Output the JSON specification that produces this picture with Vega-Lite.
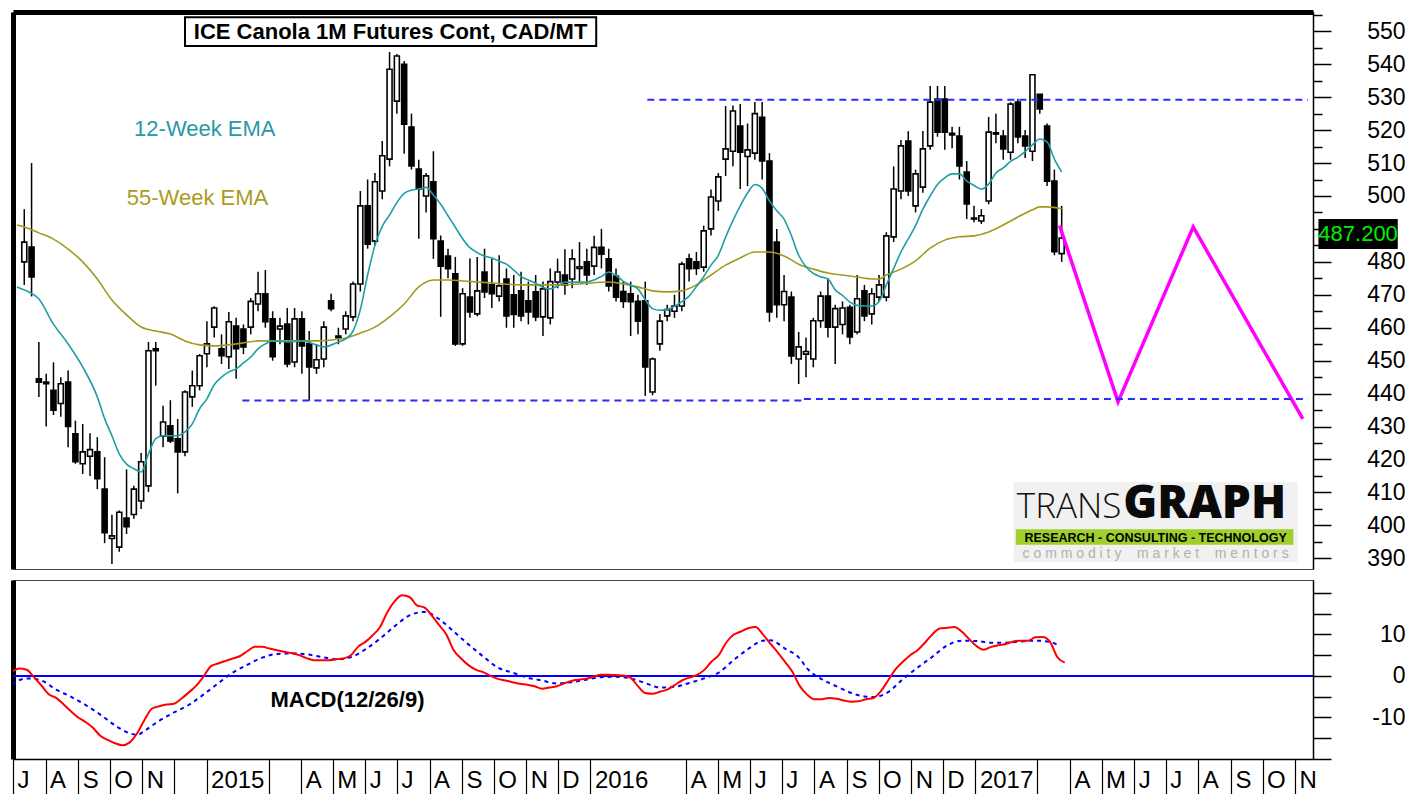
{
  "$schema": "https://vega.github.io/schema/vega-lite/v6.json",
  "background": "white",
  "padding": {"left": 11, "top": 11, "right": 0, "bottom": 0},
  "config": {
    "view": {"stroke": "#444444", "strokeWidth": 1},
    "axis": {"labelFont": "Liberation Sans", "labelColor": "black", "domainColor": "black", "tickColor": "black", "grid": false, "labelOverlap": false},
    "text": {"font": "Liberation Sans"}
  },
  "datasets": {
    "candles": [
      {"d":"2014-07-07","o":480,"h":496,"l":473,"c":486},
      {"d":"2014-07-14","o":484.5,"h":510,"l":469.5,"c":475.4},
      {"d":"2014-07-21","o":444.5,"h":455.7,"l":439,"c":443.5},
      {"d":"2014-07-28","o":443.5,"h":446,"l":430,"c":443},
      {"d":"2014-08-04","o":441,"h":449.5,"l":433.5,"c":435},
      {"d":"2014-08-11","o":437,"h":445,"l":433,"c":443},
      {"d":"2014-08-18","o":443.5,"h":447,"l":423.7,"c":430},
      {"d":"2014-08-25","o":427.8,"h":431.8,"l":418.7,"c":419.3},
      {"d":"2014-09-01","o":418.7,"h":430.8,"l":415.6,"c":422.3},
      {"d":"2014-09-08","o":421,"h":428,"l":415,"c":423},
      {"d":"2014-09-15","o":422.3,"h":426.8,"l":411,"c":414.2},
      {"d":"2014-09-22","o":411,"h":420.7,"l":394.6,"c":397.8},
      {"d":"2014-09-29","o":396,"h":403.2,"l":388.3,"c":396.8},
      {"d":"2014-10-06","o":393.4,"h":404.5,"l":392,"c":404},
      {"d":"2014-10-13","o":402.2,"h":417,"l":397.4,"c":399.6},
      {"d":"2014-10-20","o":403.3,"h":412,"l":402,"c":411},
      {"d":"2014-10-27","o":407.4,"h":422,"l":405,"c":419.3},
      {"d":"2014-11-03","o":412,"h":455.7,"l":410.1,"c":453},
      {"d":"2014-11-10","o":453.6,"h":455.7,"l":442.4,"c":453},
      {"d":"2014-11-17","o":427.1,"h":436.3,"l":423.7,"c":431.4},
      {"d":"2014-11-24","o":430.2,"h":438,"l":425,"c":425.6},
      {"d":"2014-12-01","o":426.3,"h":432.3,"l":409.7,"c":422.3},
      {"d":"2014-12-08","o":422.3,"h":441,"l":421,"c":440.5},
      {"d":"2014-12-15","o":439,"h":447,"l":436,"c":442.4},
      {"d":"2014-12-22","o":442.4,"h":452,"l":441,"c":451.5},
      {"d":"2014-12-29","o":452.1,"h":462,"l":448,"c":455.1},
      {"d":"2015-01-05","o":460.2,"h":466.5,"l":457,"c":466},
      {"d":"2015-01-12","o":453.6,"h":458,"l":449,"c":451.5},
      {"d":"2015-01-19","o":451.2,"h":464.8,"l":447.5,"c":461.8},
      {"d":"2015-01-26","o":460.5,"h":463,"l":444.5,"c":453.6},
      {"d":"2015-02-02","o":459.6,"h":461,"l":452,"c":454.2},
      {"d":"2015-02-09","o":460.2,"h":469,"l":458,"c":468},
      {"d":"2015-02-16","o":467.2,"h":477,"l":465,"c":470.3},
      {"d":"2015-02-23","o":470.3,"h":477.5,"l":460,"c":461.8},
      {"d":"2015-03-02","o":462.7,"h":465,"l":450,"c":451.2},
      {"d":"2015-03-09","o":459.6,"h":463,"l":455,"c":460.5},
      {"d":"2015-03-16","o":461.1,"h":466,"l":448,"c":449},
      {"d":"2015-03-23","o":449.6,"h":466,"l":448,"c":462.7},
      {"d":"2015-03-30","o":462.7,"h":465,"l":446,"c":454.5},
      {"d":"2015-04-06","o":455.1,"h":459,"l":437.8,"c":448.1},
      {"d":"2015-04-13","o":447.8,"h":455,"l":446,"c":450.3},
      {"d":"2015-04-20","o":450.5,"h":462,"l":448,"c":460.2},
      {"d":"2015-04-27","o":468.2,"h":470.3,"l":465,"c":465.8},
      {"d":"2015-05-04","o":457,"h":460,"l":455,"c":457.5},
      {"d":"2015-05-11","o":459.6,"h":465,"l":458,"c":463.6},
      {"d":"2015-05-18","o":463.3,"h":474,"l":462,"c":473.3},
      {"d":"2015-05-25","o":473.3,"h":501.5,"l":471,"c":497},
      {"d":"2015-06-01","o":497,"h":505,"l":484,"c":485.4},
      {"d":"2015-06-08","o":486.3,"h":507,"l":485,"c":504.3},
      {"d":"2015-06-15","o":501.5,"h":516.7,"l":499,"c":512.2},
      {"d":"2015-06-22","o":511.2,"h":543.7,"l":509,"c":538.5},
      {"d":"2015-06-29","o":528.8,"h":543.1,"l":525,"c":542.5},
      {"d":"2015-07-06","o":540,"h":541,"l":512.8,"c":521.8},
      {"d":"2015-07-13","o":520.9,"h":525,"l":508,"c":509.1},
      {"d":"2015-07-20","o":508.2,"h":511,"l":487,"c":502.1},
      {"d":"2015-07-27","o":500,"h":507,"l":495,"c":506.1},
      {"d":"2015-08-03","o":504.3,"h":513.6,"l":480.9,"c":487},
      {"d":"2015-08-10","o":486.3,"h":488,"l":463.3,"c":478.7},
      {"d":"2015-08-17","o":481.8,"h":484,"l":475,"c":477.9},
      {"d":"2015-08-24","o":476.4,"h":481.5,"l":454.5,"c":455.1},
      {"d":"2015-08-31","o":455.1,"h":472,"l":454.5,"c":470.3},
      {"d":"2015-09-07","o":469.3,"h":481,"l":463,"c":464.8},
      {"d":"2015-09-14","o":464.2,"h":481.5,"l":463.5,"c":471.2},
      {"d":"2015-09-21","o":476.9,"h":484,"l":469,"c":470.9},
      {"d":"2015-09-28","o":473,"h":481,"l":466,"c":470.3},
      {"d":"2015-10-05","o":469.6,"h":482,"l":468,"c":472.7},
      {"d":"2015-10-12","o":474.8,"h":478,"l":460,"c":463.6},
      {"d":"2015-10-19","o":470,"h":476,"l":460,"c":464},
      {"d":"2015-10-26","o":471.2,"h":477,"l":462,"c":463.6},
      {"d":"2015-11-02","o":468.2,"h":474,"l":461,"c":464.8},
      {"d":"2015-11-09","o":470.9,"h":476,"l":462,"c":463.3},
      {"d":"2015-11-16","o":463.3,"h":474,"l":457.5,"c":471.8},
      {"d":"2015-11-23","o":463,"h":478,"l":461,"c":474},
      {"d":"2015-11-30","o":473.9,"h":481,"l":472,"c":476.9},
      {"d":"2015-12-07","o":476,"h":483.8,"l":470,"c":473},
      {"d":"2015-12-14","o":474.8,"h":483.8,"l":472,"c":480.9},
      {"d":"2015-12-21","o":478,"h":486,"l":474,"c":478.5},
      {"d":"2015-12-28","o":480,"h":484,"l":473,"c":476},
      {"d":"2016-01-04","o":478.7,"h":487.9,"l":476,"c":484.4},
      {"d":"2016-01-11","o":484.4,"h":490,"l":478,"c":482.3},
      {"d":"2016-01-18","o":480.9,"h":484,"l":471,"c":472.7},
      {"d":"2016-01-25","o":475.7,"h":478,"l":468,"c":469.3},
      {"d":"2016-02-01","o":471,"h":474,"l":466,"c":468},
      {"d":"2016-02-08","o":470.3,"h":474,"l":457.5,"c":467.9},
      {"d":"2016-02-15","o":468,"h":470,"l":458,"c":462},
      {"d":"2016-02-22","o":468.2,"h":474,"l":439.3,"c":448.1},
      {"d":"2016-02-29","o":440.5,"h":451,"l":439.5,"c":450.5},
      {"d":"2016-03-07","o":455.1,"h":464.2,"l":453,"c":462},
      {"d":"2016-03-14","o":463.6,"h":467,"l":462,"c":465.5},
      {"d":"2016-03-21","o":465,"h":470,"l":463,"c":466.6},
      {"d":"2016-03-28","o":466.6,"h":480,"l":465,"c":479.3},
      {"d":"2016-04-04","o":480.9,"h":482.5,"l":474,"c":477.9},
      {"d":"2016-04-11","o":480,"h":483,"l":476,"c":478},
      {"d":"2016-04-18","o":478.4,"h":491,"l":477,"c":489.4},
      {"d":"2016-04-25","o":490,"h":502,"l":488,"c":499.7},
      {"d":"2016-05-02","o":498.5,"h":507,"l":495.5,"c":505.8},
      {"d":"2016-05-09","o":511.2,"h":527.3,"l":506.1,"c":514.3},
      {"d":"2016-05-16","o":513.6,"h":527.5,"l":509,"c":525.8},
      {"d":"2016-05-23","o":521.2,"h":527.9,"l":502.1,"c":513.3},
      {"d":"2016-05-30","o":512,"h":522,"l":503,"c":514},
      {"d":"2016-06-06","o":513,"h":528.5,"l":511,"c":525},
      {"d":"2016-06-13","o":523.9,"h":528.5,"l":505,"c":510.6},
      {"d":"2016-06-20","o":510.6,"h":513,"l":461.8,"c":464.8},
      {"d":"2016-06-27","o":486,"h":490,"l":463,"c":467},
      {"d":"2016-07-04","o":467,"h":476,"l":462,"c":471},
      {"d":"2016-07-11","o":469.3,"h":471,"l":449,"c":451.4},
      {"d":"2016-07-18","o":450.5,"h":458.7,"l":442.9,"c":454.2},
      {"d":"2016-07-25","o":452,"h":457,"l":445,"c":452.8},
      {"d":"2016-08-01","o":450.5,"h":463,"l":448,"c":462.1},
      {"d":"2016-08-08","o":462.1,"h":471,"l":460,"c":469.6},
      {"d":"2016-08-15","o":469.6,"h":475,"l":457,"c":460.2},
      {"d":"2016-08-22","o":460.2,"h":467,"l":449,"c":465.8},
      {"d":"2016-08-29","o":461,"h":468,"l":458,"c":466},
      {"d":"2016-09-05","o":466.2,"h":467,"l":455,"c":457.2},
      {"d":"2016-09-12","o":458.7,"h":476,"l":458,"c":468.8},
      {"d":"2016-09-19","o":471.2,"h":473,"l":462,"c":463.6},
      {"d":"2016-09-26","o":464.2,"h":472,"l":461,"c":470.3},
      {"d":"2016-10-03","o":469.3,"h":476,"l":468,"c":473},
      {"d":"2016-10-10","o":469.3,"h":489,"l":468,"c":487.9},
      {"d":"2016-10-17","o":487.6,"h":509,"l":486,"c":502.1},
      {"d":"2016-10-24","o":501.5,"h":517,"l":499,"c":515.2},
      {"d":"2016-10-31","o":516.7,"h":519.7,"l":500,"c":501.5},
      {"d":"2016-11-07","o":497,"h":508,"l":495,"c":506.7},
      {"d":"2016-11-14","o":502.7,"h":519.7,"l":501,"c":514.3},
      {"d":"2016-11-21","o":515.2,"h":533.4,"l":514,"c":528.5},
      {"d":"2016-11-28","o":529.4,"h":533.4,"l":518,"c":519.4},
      {"d":"2016-12-05","o":529.4,"h":533.4,"l":514,"c":519.4},
      {"d":"2016-12-12","o":518.5,"h":521,"l":514.5,"c":519},
      {"d":"2016-12-19","o":518.2,"h":521,"l":505,"c":509.1},
      {"d":"2016-12-26","o":507.3,"h":510.6,"l":493,"c":497.6},
      {"d":"2017-01-02","o":493.3,"h":497,"l":492,"c":493},
      {"d":"2017-01-09","o":492.4,"h":496,"l":491.5,"c":494},
      {"d":"2017-01-16","o":498.5,"h":524,"l":497.5,"c":519.4},
      {"d":"2017-01-23","o":518.8,"h":525,"l":516,"c":519.2},
      {"d":"2017-01-30","o":518.2,"h":520,"l":511,"c":514.3},
      {"d":"2017-02-06","o":513.3,"h":528.5,"l":511,"c":527.9},
      {"d":"2017-02-13","o":528.5,"h":529.5,"l":516,"c":517.9},
      {"d":"2017-02-20","o":518.2,"h":520,"l":511.5,"c":515.2},
      {"d":"2017-02-27","o":513.6,"h":537,"l":510.6,"c":536.8},
      {"d":"2017-03-06","o":530.9,"h":531,"l":525,"c":526.4},
      {"d":"2017-03-13","o":521.2,"h":522,"l":503,"c":504.5},
      {"d":"2017-03-20","o":504.5,"h":508,"l":482,"c":483.1},
      {"d":"2017-03-27","o":482.5,"h":497,"l":480,"c":487.2}
    ],
    "ema12": [
      {"d":"2014-06-30","v":472.4},{"d":"2014-07-07","v":471.5},{"d":"2014-07-21","v":468.7},{"d":"2014-08-04","v":461.1},
      {"d":"2014-08-18","v":455.1},{"d":"2014-09-01","v":448.1},{"d":"2014-09-15","v":439},{"d":"2014-09-22","v":432.4},
      {"d":"2014-09-29","v":427.2},{"d":"2014-10-06","v":421.7},{"d":"2014-10-13","v":418.6},{"d":"2014-10-20","v":417.2},
      {"d":"2014-10-27","v":416.2},{"d":"2014-11-03","v":421.7},{"d":"2014-11-10","v":426.3},{"d":"2014-11-17","v":427.2},
      {"d":"2014-12-01","v":427.2},{"d":"2014-12-08","v":428.4},{"d":"2014-12-15","v":430.8},{"d":"2014-12-22","v":435.4},
      {"d":"2014-12-29","v":438.4},{"d":"2015-01-05","v":442.7},{"d":"2015-01-12","v":445},{"d":"2015-01-19","v":446.6},
      {"d":"2015-01-26","v":447.5},{"d":"2015-02-02","v":449.3},{"d":"2015-02-09","v":451.1},{"d":"2015-02-16","v":453.6},
      {"d":"2015-02-23","v":455.1},{"d":"2015-03-02","v":456},{"d":"2015-03-16","v":455.7},{"d":"2015-03-30","v":456},
      {"d":"2015-04-13","v":454.8},{"d":"2015-04-20","v":454.2},{"d":"2015-05-04","v":455.7},{"d":"2015-05-11","v":456.6},
      {"d":"2015-05-18","v":459},{"d":"2015-05-25","v":465.5},{"d":"2015-06-01","v":476},{"d":"2015-06-08","v":485},
      {"d":"2015-06-15","v":490.8},{"d":"2015-06-22","v":494.2},{"d":"2015-06-29","v":498},{"d":"2015-07-06","v":500.8},
      {"d":"2015-07-13","v":501.8},{"d":"2015-07-20","v":502.1},{"d":"2015-07-27","v":502.6},{"d":"2015-08-03","v":500.3},
      {"d":"2015-08-10","v":497.5},{"d":"2015-08-17","v":494},{"d":"2015-08-24","v":490.5},{"d":"2015-08-31","v":487},
      {"d":"2015-09-07","v":484.3},{"d":"2015-09-14","v":482.8},{"d":"2015-09-21","v":481.8},{"d":"2015-09-28","v":481.2},
      {"d":"2015-10-05","v":480.2},{"d":"2015-10-12","v":479.3},{"d":"2015-10-19","v":477.5},{"d":"2015-10-26","v":475.5},
      {"d":"2015-11-02","v":474.5},{"d":"2015-11-09","v":473.5},{"d":"2015-11-16","v":472.2},{"d":"2015-11-23","v":471.8},
      {"d":"2015-11-30","v":472.7},{"d":"2015-12-07","v":473.8},{"d":"2015-12-28","v":473.9},{"d":"2016-01-04","v":474.5},
      {"d":"2016-01-11","v":475.6},{"d":"2016-01-18","v":476.9},{"d":"2016-01-25","v":475.9},{"d":"2016-02-01","v":474.1},
      {"d":"2016-02-08","v":472.9},{"d":"2016-02-15","v":471.8},{"d":"2016-02-22","v":468.5},{"d":"2016-02-29","v":465.8},
      {"d":"2016-03-07","v":465.3},{"d":"2016-03-14","v":465.5},{"d":"2016-03-21","v":466.5},{"d":"2016-03-28","v":467.9},
      {"d":"2016-04-04","v":469.6},{"d":"2016-04-11","v":472.5},{"d":"2016-04-18","v":475.5},{"d":"2016-04-25","v":479},
      {"d":"2016-05-02","v":482},{"d":"2016-05-09","v":487.5},{"d":"2016-05-16","v":492.5},{"d":"2016-05-23","v":497},
      {"d":"2016-05-30","v":500.9},{"d":"2016-06-06","v":503.5},{"d":"2016-06-13","v":502.3},{"d":"2016-06-20","v":498.5},
      {"d":"2016-06-27","v":495.5},{"d":"2016-07-04","v":493},{"d":"2016-07-11","v":488},{"d":"2016-07-18","v":482},
      {"d":"2016-07-25","v":478.5},{"d":"2016-08-01","v":476.5},{"d":"2016-08-08","v":475.5},{"d":"2016-08-15","v":474.8},
      {"d":"2016-08-22","v":471.5},{"d":"2016-08-29","v":469.8},{"d":"2016-09-05","v":467.8},{"d":"2016-09-12","v":466.8},
      {"d":"2016-09-19","v":466.6},{"d":"2016-09-26","v":466.6},{"d":"2016-10-03","v":468},{"d":"2016-10-10","v":473},
      {"d":"2016-10-17","v":478},{"d":"2016-10-24","v":483},{"d":"2016-10-31","v":487},{"d":"2016-11-07","v":491},
      {"d":"2016-11-14","v":496},{"d":"2016-11-21","v":500},{"d":"2016-11-28","v":503.5},{"d":"2016-12-05","v":505.5},
      {"d":"2016-12-12","v":506.7},{"d":"2016-12-19","v":506.7},{"d":"2016-12-26","v":504.5},{"d":"2017-01-02","v":503.2},
      {"d":"2017-01-09","v":502.1},{"d":"2017-01-16","v":503.6},{"d":"2017-01-23","v":507},{"d":"2017-01-30","v":508.5},
      {"d":"2017-02-06","v":510.5},{"d":"2017-02-13","v":511.8},{"d":"2017-02-20","v":513.5},{"d":"2017-02-27","v":515.5},
      {"d":"2017-03-06","v":517.3},{"d":"2017-03-13","v":516.4},{"d":"2017-03-20","v":511.2},{"d":"2017-03-27","v":507.3}
    ],
    "ema55": [
      {"d":"2014-06-30","v":491.2},{"d":"2014-07-07","v":490.6},{"d":"2014-07-21","v":488.8},{"d":"2014-08-04","v":486.9},
      {"d":"2014-08-18","v":483.9},{"d":"2014-09-01","v":480},{"d":"2014-09-15","v":474.8},{"d":"2014-09-29","v":468.4},
      {"d":"2014-10-13","v":463.9},{"d":"2014-10-27","v":460.2},{"d":"2014-11-10","v":459},{"d":"2014-11-24","v":458.1},
      {"d":"2014-12-08","v":456},{"d":"2014-12-22","v":454.8},{"d":"2015-01-05","v":454.5},{"d":"2015-01-19","v":454.8},
      {"d":"2015-02-02","v":455.4},{"d":"2015-02-16","v":456},{"d":"2015-03-16","v":456},{"d":"2015-04-13","v":456},
      {"d":"2015-04-27","v":456.3},{"d":"2015-05-11","v":456.9},{"d":"2015-05-25","v":458.4},{"d":"2015-06-08","v":460.2},
      {"d":"2015-06-22","v":463.3},{"d":"2015-07-06","v":467.2},{"d":"2015-07-20","v":472.4},{"d":"2015-08-03","v":474.5},
      {"d":"2015-08-17","v":474.5},{"d":"2015-08-31","v":474.2},{"d":"2015-09-28","v":473.6},{"d":"2015-10-26","v":473},
      {"d":"2015-11-23","v":473},{"d":"2015-12-21","v":473.3},{"d":"2016-01-18","v":473.9},{"d":"2016-02-01","v":473.3},
      {"d":"2016-02-15","v":472.4},{"d":"2016-02-29","v":471.2},{"d":"2016-03-14","v":470.9},{"d":"2016-03-28","v":471.2},
      {"d":"2016-04-11","v":473},{"d":"2016-04-25","v":476},{"d":"2016-05-09","v":479},{"d":"2016-05-23","v":481.2},
      {"d":"2016-06-06","v":483},{"d":"2016-06-20","v":483},{"d":"2016-07-04","v":481.8},{"d":"2016-07-18","v":479.3},
      {"d":"2016-08-01","v":477.8},{"d":"2016-08-15","v":476.6},{"d":"2016-08-29","v":476},{"d":"2016-09-12","v":475.4},
      {"d":"2016-09-26","v":474.8},{"d":"2016-10-03","v":474.8},{"d":"2016-10-10","v":476},{"d":"2016-10-24","v":477.8},
      {"d":"2016-11-07","v":480.3},{"d":"2016-11-21","v":484.2},{"d":"2016-12-05","v":486.6},{"d":"2016-12-19","v":487.6},
      {"d":"2017-01-02","v":487.9},{"d":"2017-01-16","v":489.1},{"d":"2017-01-30","v":491.2},{"d":"2017-02-13","v":493.6},
      {"d":"2017-02-27","v":495.8},{"d":"2017-03-06","v":496.7},{"d":"2017-03-13","v":496.7},{"d":"2017-03-27","v":496.1}
    ],
    "macd": [
      {"d":"2014-06-30","v":1.0},{"d":"2014-07-07","v":1.8},{"d":"2014-07-14","v":1.5},{"d":"2014-07-21","v":-0.3},
      {"d":"2014-07-28","v":-2.3},{"d":"2014-08-04","v":-4.4},{"d":"2014-08-11","v":-5.3},{"d":"2014-08-18","v":-6.8},
      {"d":"2014-08-25","v":-8.5},{"d":"2014-09-01","v":-10.0},{"d":"2014-09-08","v":-11.1},{"d":"2014-09-15","v":-12.5},
      {"d":"2014-09-22","v":-14.4},{"d":"2014-09-29","v":-15.4},{"d":"2014-10-06","v":-16.2},{"d":"2014-10-13","v":-16.7},
      {"d":"2014-10-20","v":-16.0},{"d":"2014-10-27","v":-13.8},{"d":"2014-11-03","v":-10.6},{"d":"2014-11-10","v":-7.9},
      {"d":"2014-11-17","v":-7.3},{"d":"2014-11-24","v":-6.9},{"d":"2014-12-01","v":-6.7},{"d":"2014-12-08","v":-5.5},
      {"d":"2014-12-15","v":-4.0},{"d":"2014-12-22","v":-2.4},{"d":"2014-12-29","v":-0.2},{"d":"2015-01-05","v":2.3},
      {"d":"2015-01-12","v":3.0},{"d":"2015-01-19","v":3.6},{"d":"2015-01-26","v":4.2},{"d":"2015-02-02","v":4.8},
      {"d":"2015-02-09","v":6.0},{"d":"2015-02-16","v":7.0},{"d":"2015-02-23","v":7.0},{"d":"2015-03-02","v":6.6},
      {"d":"2015-03-09","v":6.2},{"d":"2015-03-16","v":5.8},{"d":"2015-03-23","v":5.5},{"d":"2015-03-30","v":5.0},
      {"d":"2015-04-06","v":4.3},{"d":"2015-04-13","v":3.8},{"d":"2015-04-20","v":3.8},{"d":"2015-04-27","v":3.8},
      {"d":"2015-05-04","v":4.0},{"d":"2015-05-11","v":4.2},{"d":"2015-05-18","v":4.9},{"d":"2015-05-25","v":7.0},
      {"d":"2015-06-01","v":8.2},{"d":"2015-06-08","v":9.8},{"d":"2015-06-15","v":11.8},{"d":"2015-06-22","v":15.4},
      {"d":"2015-06-29","v":18.0},{"d":"2015-07-06","v":19.4},{"d":"2015-07-13","v":19.0},{"d":"2015-07-20","v":17.0},
      {"d":"2015-07-27","v":16.5},{"d":"2015-08-03","v":14.6},{"d":"2015-08-10","v":12.3},{"d":"2015-08-17","v":10.0},
      {"d":"2015-08-24","v":6.2},{"d":"2015-08-31","v":4.2},{"d":"2015-09-07","v":2.6},{"d":"2015-09-14","v":1.5},
      {"d":"2015-09-21","v":0.9},{"d":"2015-09-28","v":0.0},{"d":"2015-10-05","v":-0.7},{"d":"2015-10-12","v":-1.1},
      {"d":"2015-10-19","v":-1.5},{"d":"2015-10-26","v":-1.9},{"d":"2015-11-02","v":-2.1},{"d":"2015-11-09","v":-2.5},
      {"d":"2015-11-16","v":-3.1},{"d":"2015-11-23","v":-2.8},{"d":"2015-11-30","v":-2.5},{"d":"2015-12-07","v":-1.8},
      {"d":"2015-12-14","v":-1.2},{"d":"2015-12-21","v":-0.9},{"d":"2015-12-28","v":-0.7},{"d":"2016-01-04","v":-0.2},
      {"d":"2016-01-11","v":0.3},{"d":"2016-01-18","v":0.3},{"d":"2016-01-25","v":0.2},{"d":"2016-02-01","v":0.1},
      {"d":"2016-02-08","v":-0.4},{"d":"2016-02-15","v":-2.4},{"d":"2016-02-22","v":-4.1},{"d":"2016-02-29","v":-4.3},
      {"d":"2016-03-07","v":-3.8},{"d":"2016-03-14","v":-3.3},{"d":"2016-03-21","v":-2.2},{"d":"2016-03-28","v":-1.1},
      {"d":"2016-04-04","v":-0.4},{"d":"2016-04-11","v":0.2},{"d":"2016-04-18","v":1.4},{"d":"2016-04-25","v":3.4},
      {"d":"2016-05-02","v":5.0},{"d":"2016-05-09","v":8.0},{"d":"2016-05-16","v":9.9},{"d":"2016-05-23","v":10.7},
      {"d":"2016-05-30","v":11.5},{"d":"2016-06-06","v":11.8},{"d":"2016-06-13","v":10.0},{"d":"2016-06-20","v":7.8},
      {"d":"2016-06-27","v":5.7},{"d":"2016-07-04","v":3.4},{"d":"2016-07-11","v":1.0},{"d":"2016-07-18","v":-2.4},
      {"d":"2016-07-25","v":-4.5},{"d":"2016-08-01","v":-5.6},{"d":"2016-08-08","v":-5.6},{"d":"2016-08-15","v":-5.3},
      {"d":"2016-08-22","v":-5.5},{"d":"2016-08-29","v":-5.9},{"d":"2016-09-05","v":-6.2},{"d":"2016-09-12","v":-6.1},
      {"d":"2016-09-19","v":-5.6},{"d":"2016-09-26","v":-5.3},{"d":"2016-10-03","v":-3.7},{"d":"2016-10-10","v":-1.1},
      {"d":"2016-10-17","v":1.6},{"d":"2016-10-24","v":3.4},{"d":"2016-10-31","v":5.0},{"d":"2016-11-07","v":6.2},
      {"d":"2016-11-14","v":8.0},{"d":"2016-11-21","v":10.0},{"d":"2016-11-28","v":11.4},{"d":"2016-12-05","v":11.6},
      {"d":"2016-12-12","v":11.8},{"d":"2016-12-19","v":10.7},{"d":"2016-12-26","v":8.9},{"d":"2017-01-02","v":7.2},
      {"d":"2017-01-09","v":6.3},{"d":"2017-01-16","v":7.0},{"d":"2017-01-23","v":7.4},{"d":"2017-01-30","v":7.7},
      {"d":"2017-02-06","v":8.3},{"d":"2017-02-13","v":8.5},{"d":"2017-02-20","v":8.5},{"d":"2017-02-27","v":9.3},
      {"d":"2017-03-06","v":9.4},{"d":"2017-03-13","v":8.2},{"d":"2017-03-20","v":4.5},{"d":"2017-03-27","v":3.2}
    ],
    "signal": [
      {"d":"2014-06-30","v":-2.0},{"d":"2014-07-14","v":-0.6},{"d":"2014-07-28","v":-1.1},{"d":"2014-08-11","v":-3.3},
      {"d":"2014-08-25","v":-5.0},{"d":"2014-09-08","v":-7.0},{"d":"2014-09-22","v":-9.3},{"d":"2014-10-06","v":-11.9},
      {"d":"2014-10-20","v":-13.8},{"d":"2014-10-27","v":-14.2},{"d":"2014-11-03","v":-13.2},{"d":"2014-11-17","v":-10.8},
      {"d":"2014-12-01","v":-8.8},{"d":"2014-12-15","v":-7.0},{"d":"2014-12-29","v":-4.5},{"d":"2015-01-12","v":-1.8},
      {"d":"2015-01-26","v":0.8},{"d":"2015-02-09","v":2.7},{"d":"2015-02-23","v":4.4},{"d":"2015-03-09","v":5.3},
      {"d":"2015-03-23","v":5.4},{"d":"2015-04-06","v":5.2},{"d":"2015-04-20","v":4.6},{"d":"2015-05-04","v":4.0},
      {"d":"2015-05-18","v":4.5},{"d":"2015-06-01","v":6.4},{"d":"2015-06-15","v":9.0},{"d":"2015-06-29","v":12.0},
      {"d":"2015-07-13","v":14.6},{"d":"2015-07-27","v":15.4},{"d":"2015-08-10","v":13.7},{"d":"2015-08-24","v":10.7},
      {"d":"2015-09-07","v":7.6},{"d":"2015-09-21","v":4.7},{"d":"2015-10-05","v":2.0},{"d":"2015-10-19","v":0.8},
      {"d":"2015-11-02","v":-0.4},{"d":"2015-11-16","v":-1.1},{"d":"2015-11-30","v":-1.8},{"d":"2015-12-14","v":-1.5},
      {"d":"2015-12-28","v":-0.9},{"d":"2016-01-11","v":-0.3},{"d":"2016-01-25","v":-0.2},{"d":"2016-02-08","v":-0.6},
      {"d":"2016-02-22","v":-1.7},{"d":"2016-03-07","v":-2.8},{"d":"2016-03-21","v":-2.6},{"d":"2016-04-04","v":-1.7},
      {"d":"2016-04-18","v":-0.6},{"d":"2016-05-02","v":0.8},{"d":"2016-05-16","v":3.8},{"d":"2016-05-30","v":6.5},
      {"d":"2016-06-13","v":8.5},{"d":"2016-06-20","v":8.6},{"d":"2016-07-04","v":6.6},{"d":"2016-07-18","v":4.2},
      {"d":"2016-07-25","v":1.8},{"d":"2016-08-08","v":-0.8},{"d":"2016-08-22","v":-2.5},{"d":"2016-09-05","v":-4.1},
      {"d":"2016-09-19","v":-5.0},{"d":"2016-09-26","v":-5.1},{"d":"2016-10-10","v":-3.9},{"d":"2016-10-24","v":-0.8},
      {"d":"2016-11-07","v":2.0},{"d":"2016-11-21","v":4.6},{"d":"2016-12-05","v":7.3},{"d":"2016-12-19","v":8.5},
      {"d":"2017-01-02","v":8.4},{"d":"2017-01-16","v":8.0},{"d":"2017-01-30","v":8.0},{"d":"2017-02-13","v":8.3},
      {"d":"2017-02-27","v":8.5},{"d":"2017-03-13","v":8.2},{"d":"2017-03-20","v":7.5}
    ]
  },
  "spacing": 8,
  "vconcat": [
    {
      "width": 1300,
      "height": 557,
      "resolve": {"axis": {"y": "independent"}},
      "layer": [
        {
          "layer": [
            {
              "data": {"name": "candles"},
              "mark": {"type": "rule", "color": "black", "strokeWidth": 1.5},
              "encoding": {
                "x": {"field": "d", "type": "temporal", "title": null,
                      "scale": {"type": "utc", "domain": [{"year": 2014, "month": 7, "date": 1, "utc": true}, {"year": 2017, "month": 11, "date": 18, "utc": true}]}},
                "y": {"field": "l", "type": "quantitative", "title": null,
                      "scale": {"domain": [386.75, 555.86], "nice": false, "zero": false},
                      "axis": {"orient": "right", "title": null, "grid": false, "tickCount": 1000,
                               "values": [390,395,400,405,410,415,420,425,430,435,440,445,450,455,460,465,470,475,480,485,490,495,500,505,510,515,520,525,530,535,540,545,550,555],
                               "labelExpr": "(datum.value % 10 == 0 && datum.value != 490) ? '' + datum.value : ''",
                               "tickSize": {"condition": {"test": "datum.value % 10 != 0", "value": 9}, "value": 18},
                               "labelFontSize": {"condition": {"test": "datum.value % 10 != 0", "value": 1}, "value": 23},
                               "tickWidth": 1.5, "tickColor": "black",
                               "labelAlign": "right", "labelBaseline": "middle", "labelPadding": 74,
                               "labelFont": "Liberation Sans", "labelColor": "black",
                               "labelOverlap": false, "labelBound": false, "labelFlush": false,
                               "domain": true, "domainColor": "black", "domainWidth": 1.5}},
                "y2": {"field": "h"}
              }
            },
            {
              "data": {"name": "candles"},
              "mark": {"type": "bar", "width": 5, "stroke": "black", "strokeWidth": 1.6},
              "encoding": {
                "x": {"field": "d", "type": "temporal", "title": null},
                "y": {"field": "o", "type": "quantitative", "title": null},
                "y2": {"field": "c"},
                "fill": {"condition": {"test": "datum.c < datum.o", "value": "black"}, "value": "white"}
              }
            },
            {
              "data": {"name": "ema55"},
              "mark": {"type": "line", "color": "#a09a1e", "strokeWidth": 1.6, "interpolate": "monotone", "clip": true},
              "encoding": {
                "x": {"field": "d", "type": "temporal", "title": null},
                "y": {"field": "v", "type": "quantitative", "title": null}
              }
            },
            {
              "data": {"name": "ema12"},
              "mark": {"type": "line", "color": "#1e9ea6", "strokeWidth": 1.6, "interpolate": "monotone", "clip": true},
              "encoding": {
                "x": {"field": "d", "type": "temporal", "title": null},
                "y": {"field": "v", "type": "quantitative", "title": null}
              }
            },
            {
              "data": {"values": [
                {"d": "2017-03-25", "v": 491.0},
                {"d": "2017-05-20", "v": 437.5},
                {"d": "2017-07-31", "v": 490.6},
                {"d": "2017-11-13", "v": 432.3}
              ]},
              "mark": {"type": "line", "color": "#ff00ff", "strokeWidth": 3.5},
              "encoding": {
                "x": {"field": "d", "type": "temporal", "title": null},
                "y": {"field": "v", "type": "quantitative", "title": null}
              }
            },
            {
              "data": {"values": [{"d1": "2014-12-08", "d2": "2016-01-06", "v1": 545.5, "v2": 554.3}]},
              "mark": {"type": "rect", "fill": "white", "stroke": "black", "strokeWidth": 2},
              "encoding": {
                "x": {"field": "d1", "type": "temporal", "title": null},
                "x2": {"field": "d2"},
                "y": {"field": "v1", "type": "quantitative", "title": null},
                "y2": {"field": "v2"}
              }
            },
            {
              "data": {"values": [{"d": "2015-06-23", "v": 549.9, "t": "ICE Canola 1M Futures Cont, CAD/MT"}]},
              "mark": {"type": "text", "font": "Liberation Sans", "fontSize": 22, "fontWeight": "bold", "color": "black", "align": "center", "baseline": "middle"},
              "encoding": {
                "x": {"field": "d", "type": "temporal", "title": null},
                "y": {"field": "v", "type": "quantitative", "title": null},
                "text": {"field": "t"}
              }
            },
            {
              "data": {"values": [{"d": "2014-12-27", "v": 520.3, "t": "12-Week EMA"}]},
              "mark": {"type": "text", "font": "Liberation Sans", "fontSize": 22, "color": "#2799a8", "align": "center", "baseline": "middle"},
              "encoding": {
                "x": {"field": "d", "type": "temporal", "title": null},
                "y": {"field": "v", "type": "quantitative", "title": null},
                "text": {"field": "t"}
              }
            },
            {
              "data": {"values": [{"d": "2014-12-20", "v": 499.4, "t": "55-Week EMA"}]},
              "mark": {"type": "text", "font": "Liberation Sans", "fontSize": 22, "color": "#aa9c22", "align": "center", "baseline": "middle"},
              "encoding": {
                "x": {"field": "d", "type": "temporal", "title": null},
                "y": {"field": "v", "type": "quantitative", "title": null},
                "text": {"field": "t"}
              }
            },
            {
              "data": {"values": [{"d1": "2017-02-09", "d2": "2017-11-08", "v1": 388.9, "v2": 413.2}]},
              "mark": {"type": "rect", "fill": "#f1f1f1"},
              "encoding": {
                "x": {"field": "d1", "type": "temporal", "title": null},
                "x2": {"field": "d2"},
                "y": {"field": "v1", "type": "quantitative", "title": null},
                "y2": {"field": "v2"}
              }
            },
            {
              "data": {"values": [{"d1": "2017-02-11", "d2": "2017-11-04", "v1": 394.1, "v2": 398.8}]},
              "mark": {"type": "rect", "fill": "#9fcf2a"},
              "encoding": {
                "x": {"field": "d1", "type": "temporal", "title": null},
                "x2": {"field": "d2"},
                "y": {"field": "v1", "type": "quantitative", "title": null},
                "y2": {"field": "v2"}
              }
            },
            {
              "data": {"values": [{"d": "2017-02-12", "v": 402.1, "t": "TRANS"}]},
              "mark": {"type": "text", "font": "Open Sans", "fontWeight": 300, "fontSize": 35, "color": "#111111", "align": "left", "baseline": "alphabetic"},
              "encoding": {
                "x": {"field": "d", "type": "temporal", "title": null},
                "y": {"field": "v", "type": "quantitative", "title": null},
                "text": {"field": "t"}
              }
            },
            {
              "data": {"values": [{"d": "2017-05-25", "v": 402.1, "t": "GRAPH"}]},
              "mark": {"type": "text", "font": "Open Sans", "fontWeight": 800, "fontSize": 46, "color": "#0a0a0a", "align": "left", "baseline": "alphabetic"},
              "encoding": {
                "x": {"field": "d", "type": "temporal", "title": null},
                "y": {"field": "v", "type": "quantitative", "title": null},
                "text": {"field": "t"}
              }
            },
            {
              "data": {"values": [{"d": "2017-06-25", "v": 396.3, "t": "RESEARCH - CONSULTING - TECHNOLOGY"}]},
              "mark": {"type": "text", "font": "Liberation Sans", "fontWeight": "bold", "fontSize": 12.5, "color": "black", "align": "center", "baseline": "middle"},
              "encoding": {
                "x": {"field": "d", "type": "temporal", "title": null},
                "y": {"field": "v", "type": "quantitative", "title": null},
                "text": {"field": "t"}
              }
            },
            {
              "data": {"values": [{"d": "2017-06-25", "v": 391.3, "t": "c o m m o d i t y \u00a0\u00a0 m a r k e t \u00a0\u00a0 m e n t o r s"}]},
              "mark": {"type": "text", "font": "Liberation Sans", "fontSize": 14, "color": "#b0b0b0", "align": "center", "baseline": "middle"},
              "encoding": {
                "x": {"field": "d", "type": "temporal", "title": null},
                "y": {"field": "v", "type": "quantitative", "title": null},
                "text": {"field": "t"}
              }
            },
            {
              "data": {"values": [{"d1": "2017-11-28", "d2": "2018-02-12", "v1": 483.9, "v2": 493.0}]},
              "mark": {"type": "rect", "fill": "black"},
              "encoding": {
                "x": {"field": "d1", "type": "temporal", "title": null},
                "x2": {"field": "d2"},
                "y": {"field": "v1", "type": "quantitative", "title": null},
                "y2": {"field": "v2"}
              }
            },
            {
              "data": {"values": [{"d": "2018-01-05", "v": 488.4, "t": "487.200"}]},
              "mark": {"type": "text", "font": "Liberation Sans", "fontSize": 22, "color": "#00ee00", "align": "center", "baseline": "middle"},
              "encoding": {
                "x": {"field": "d", "type": "temporal", "title": null},
                "y": {"field": "v", "type": "quantitative", "title": null},
                "text": {"field": "t"}
              }
            }
          ]
        },
        {
          "data": {"values": [
            {"s": "2016-02-24", "e": "2017-11-18", "v": 529.2},
            {"s": "2015-02-01", "e": "2016-07-23", "v": 437.9},
            {"s": "2016-07-23", "e": "2017-11-18", "v": 438.4}
          ]},
          "mark": {"type": "rule", "color": "#2b2bff", "strokeWidth": 2, "strokeDash": [7, 5]},
          "encoding": {
            "x": {"field": "s", "type": "temporal", "title": null,
                  "scale": {"type": "utc", "domain": [{"year": 2014, "month": 7, "date": 1, "utc": true}, {"year": 2017, "month": 11, "date": 18, "utc": true}]},
                  "axis": {"orient": "top", "title": null, "labels": false, "ticks": false, "grid": false, "domain": true, "domainWidth": 5, "domainColor": "black", "minExtent": 0, "maxExtent": 3}},
            "x2": {"field": "e"},
            "y": {"field": "v", "type": "quantitative", "title": null,
                  "scale": {"domain": [386.75, 555.86], "nice": false, "zero": false},
                  "axis": {"orient": "left", "title": null, "labels": false, "ticks": false, "grid": false, "domain": true, "domainWidth": 5, "domainColor": "black", "minExtent": 0, "maxExtent": 3}}
          }
        }
      ]
    },
    {
      "width": 1300,
      "height": 179,
      "resolve": {"axis": {"y": "independent"}},
      "layer": [
        {
          "data": {"values": [{"v": 0}]},
          "mark": {"type": "rule", "color": "#0000ff", "strokeWidth": 2},
          "encoding": {
            "y": {"field": "v", "type": "quantitative", "title": null,
                  "scale": {"domain": [-20, 23.1], "nice": false, "zero": false},
                  "axis": {"orient": "left", "title": null, "labels": false, "ticks": false, "grid": false, "domain": true, "domainWidth": 5, "domainColor": "black", "minExtent": 0, "maxExtent": 3}}
          }
        },
        {
          "layer": [
            {
              "data": {"name": "signal"},
              "mark": {"type": "line", "color": "#0000ff", "strokeWidth": 2, "strokeDash": [4, 4], "interpolate": "monotone", "clip": true},
              "encoding": {
                "x": {"field": "d", "type": "temporal", "title": null,
                      "scale": {"type": "utc", "domain": [{"year": 2014, "month": 7, "date": 1, "utc": true}, {"year": 2017, "month": 11, "date": 18, "utc": true}]},
                      "axis": {"orient": "bottom", "title": null, "grid": false, "tickCount": 1000,
                               "values": [
                                 {"year": 2014, "month": 7, "date": 1, "utc": true}, {"year": 2014, "month": 8, "date": 1, "utc": true},
                                 {"year": 2014, "month": 9, "date": 1, "utc": true}, {"year": 2014, "month": 10, "date": 1, "utc": true},
                                 {"year": 2014, "month": 11, "date": 1, "utc": true}, {"year": 2014, "month": 12, "date": 1, "utc": true},
                                 {"year": 2015, "month": 1, "date": 1, "utc": true}, {"year": 2015, "month": 3, "date": 1, "utc": true},
                                 {"year": 2015, "month": 4, "date": 1, "utc": true}, {"year": 2015, "month": 5, "date": 1, "utc": true},
                                 {"year": 2015, "month": 6, "date": 1, "utc": true}, {"year": 2015, "month": 7, "date": 1, "utc": true},
                                 {"year": 2015, "month": 8, "date": 1, "utc": true}, {"year": 2015, "month": 9, "date": 1, "utc": true},
                                 {"year": 2015, "month": 10, "date": 1, "utc": true}, {"year": 2015, "month": 11, "date": 1, "utc": true},
                                 {"year": 2015, "month": 12, "date": 1, "utc": true}, {"year": 2016, "month": 1, "date": 1, "utc": true},
                                 {"year": 2016, "month": 4, "date": 1, "utc": true}, {"year": 2016, "month": 5, "date": 1, "utc": true},
                                 {"year": 2016, "month": 6, "date": 1, "utc": true}, {"year": 2016, "month": 7, "date": 1, "utc": true},
                                 {"year": 2016, "month": 8, "date": 1, "utc": true}, {"year": 2016, "month": 9, "date": 1, "utc": true},
                                 {"year": 2016, "month": 10, "date": 1, "utc": true}, {"year": 2016, "month": 11, "date": 1, "utc": true},
                                 {"year": 2016, "month": 12, "date": 1, "utc": true}, {"year": 2017, "month": 1, "date": 1, "utc": true},
                                 {"year": 2017, "month": 3, "date": 1, "utc": true}, {"year": 2017, "month": 4, "date": 1, "utc": true},
                                 {"year": 2017, "month": 5, "date": 1, "utc": true}, {"year": 2017, "month": 6, "date": 1, "utc": true},
                                 {"year": 2017, "month": 7, "date": 1, "utc": true}, {"year": 2017, "month": 8, "date": 1, "utc": true},
                                 {"year": 2017, "month": 9, "date": 1, "utc": true}, {"year": 2017, "month": 10, "date": 1, "utc": true},
                                 {"year": 2017, "month": 11, "date": 1, "utc": true}
                               ],
                               "labelExpr": "utcmonth(datum.value) == 0 ? utcFormat(datum.value, '%Y') : ((utcmonth(datum.value) == 2 || (utcyear(datum.value) == 2014 && utcmonth(datum.value) == 11)) ? '' : substring(utcFormat(datum.value, '%b'), 0, 1))",
                               "tickSize": 35, "tickWidth": 1.2, "tickColor": "black",
                               "labelAlign": "left", "labelBaseline": "middle", "labelPadding": -14, "labelOffset": 4,
                               "labelFontSize": 24, "labelFont": "Liberation Sans", "labelColor": "black",
                               "labelOverlap": false, "labelBound": false, "labelFlush": false,
                               "domain": true, "domainColor": "black", "domainWidth": 1.5}},
                "y": {"field": "v", "type": "quantitative", "title": null,
                      "scale": {"domain": [-20, 23.1], "nice": false, "zero": false},
                      "axis": {"orient": "right", "title": null, "grid": false, "tickCount": 1000,
                               "values": [-20, -15, -10, -5, 0, 5, 10, 15, 20],
                               "labelExpr": "(datum.value == 10 || datum.value == 0 || datum.value == -10) ? '' + datum.value : ''",
                               "labelFontSize": {"condition": {"test": "datum.value == 20 || datum.value == -20", "value": 1}, "value": 23},
                               "tickSize": 18, "tickWidth": 1.5, "tickColor": "black",
                               "labelAlign": "right", "labelBaseline": "middle", "labelPadding": 74,
                               "labelFont": "Liberation Sans", "labelColor": "black",
                               "labelOverlap": false, "labelBound": false, "labelFlush": false,
                               "domain": true, "domainColor": "black", "domainWidth": 1.5}}
              }
            },
            {
              "data": {"name": "macd"},
              "mark": {"type": "line", "color": "#ff0000", "strokeWidth": 2, "interpolate": "monotone", "clip": true},
              "encoding": {
                "x": {"field": "d", "type": "temporal", "title": null},
                "y": {"field": "v", "type": "quantitative", "title": null}
              }
            },
            {
              "data": {"values": [{"d": "2015-05-15", "v": -5.8, "t": "MACD(12/26/9)"}]},
              "mark": {"type": "text", "font": "Liberation Sans", "fontSize": 22, "fontWeight": "bold", "color": "black", "align": "center", "baseline": "middle"},
              "encoding": {
                "x": {"field": "d", "type": "temporal", "title": null},
                "y": {"field": "v", "type": "quantitative", "title": null},
                "text": {"field": "t"}
              }
            }
          ]
        }
      ]
    }
  ]
}
